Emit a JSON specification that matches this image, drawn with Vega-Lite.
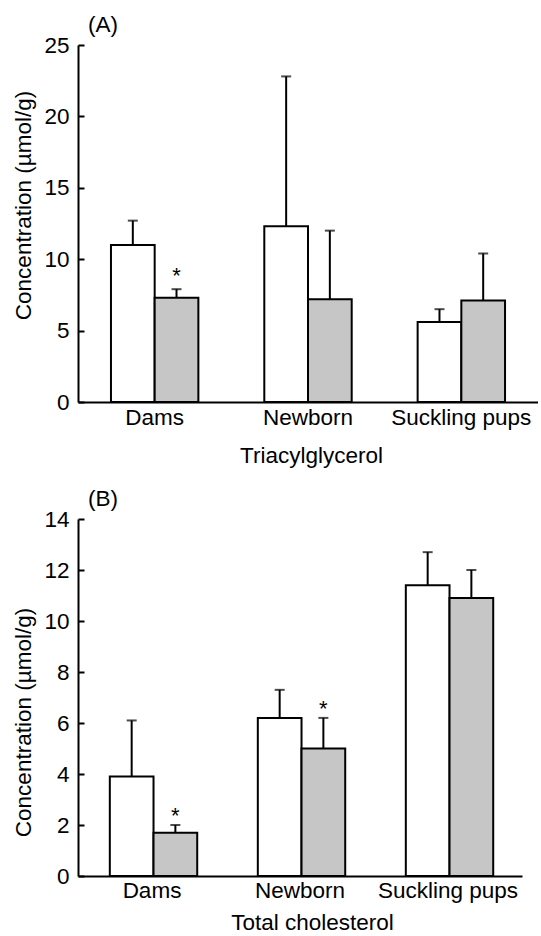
{
  "$schema": "https://vega.github.io/schema/vega-lite/v6.json",
  "background": "white",
  "padding": {"left": 12, "top": 13, "right": 0, "bottom": 0},
  "spacing": 20,
  "config": {
    "font": "Liberation Sans",
    "view": {"stroke": null},
    "axis": {
      "domainColor": "black", "domainWidth": 2, "tickColor": "black", "tickWidth": 2,
      "labelColor": "black", "titleColor": "black",
      "labelFont": "Liberation Sans", "titleFont": "Liberation Sans",
      "labelFontSize": 22.5, "titleFontSize": 22.5, "titleFontWeight": "normal", "grid": false
    },
    "title": {"font": "Liberation Sans", "fontSize": 22.5, "fontWeight": "normal", "anchor": "start", "frame": "group", "color": "black"}
  },
  "datasets": {
    "A": [
      {"group": "Dams", "treatment": "control", "value": 11.0, "upper": 12.7, "sig": false},
      {"group": "Dams", "treatment": "treated", "value": 7.3, "upper": 7.9, "sig": true},
      {"group": "Newborn", "treatment": "control", "value": 12.3, "upper": 22.8, "sig": false},
      {"group": "Newborn", "treatment": "treated", "value": 7.2, "upper": 12.0, "sig": false},
      {"group": "Suckling pups", "treatment": "control", "value": 5.6, "upper": 6.5, "sig": false},
      {"group": "Suckling pups", "treatment": "treated", "value": 7.1, "upper": 10.4, "sig": false}
    ],
    "B": [
      {"group": "Dams", "treatment": "control", "value": 3.9, "upper": 6.1, "sig": false},
      {"group": "Dams", "treatment": "treated", "value": 1.7, "upper": 2.0, "sig": true},
      {"group": "Newborn", "treatment": "control", "value": 6.2, "upper": 7.3, "sig": false},
      {"group": "Newborn", "treatment": "treated", "value": 5.0, "upper": 6.2, "sig": true},
      {"group": "Suckling pups", "treatment": "control", "value": 11.4, "upper": 12.7, "sig": false},
      {"group": "Suckling pups", "treatment": "treated", "value": 10.9, "upper": 12.0, "sig": false}
    ]
  },
  "vconcat": [
    {
      "title": {"text": "(A)", "dx": 10, "offset": -2},
      "width": 460,
      "height": 357,
      "data": {"name": "A"},
      "encoding": {
        "x": {
          "field": "group", "type": "nominal", "sort": ["Dams", "Newborn", "Suckling pups"],
          "scale": {"paddingInner": 0.43, "paddingOuter": 0.215},
          "axis": {"title": "Triacylglycerol", "labelAngle": 0, "ticks": false, "labelPadding": 4, "titlePadding": 16, "titleX": 233}
        },
        "xOffset": {"field": "treatment", "type": "nominal", "sort": ["control", "treated"]}
      },
      "layer": [
        {
          "mark": {"type": "bar", "stroke": "black", "strokeWidth": 2},
          "encoding": {
            "y": {
              "field": "value", "type": "quantitative",
              "scale": {"domain": [0, 25], "nice": false},
              "axis": {"title": "Concentration (µmol/g)", "values": [0, 5, 10, 15, 20, 25], "tickSize": -6, "labelPadding": 15, "titlePadding": 8, "titleY": 160}
            },
            "color": {"field": "treatment", "type": "nominal", "scale": {"domain": ["control", "treated"], "range": ["#ffffff", "#c6c6c6"]}, "legend": null}
          }
        },
        {
          "mark": {"type": "rule", "color": "black", "strokeWidth": 2},
          "encoding": {"y": {"field": "value", "type": "quantitative"}, "y2": {"field": "upper"}}
        },
        {
          "mark": {"type": "tick", "color": "black", "size": 10, "thickness": 2},
          "encoding": {"y": {"field": "upper", "type": "quantitative"}}
        },
        {
          "transform": [{"filter": "datum.sig"}],
          "mark": {"type": "text", "text": "*", "fontSize": 22, "baseline": "alphabetic", "dy": -6, "color": "black"},
          "encoding": {"y": {"field": "upper", "type": "quantitative"}}
        }
      ]
    },
    {
      "title": {"text": "(B)", "dx": 10, "offset": -2},
      "width": 444,
      "height": 357,
      "data": {"name": "B"},
      "encoding": {
        "x": {
          "field": "group", "type": "nominal", "sort": ["Dams", "Newborn", "Suckling pups"],
          "scale": {"paddingInner": 0.43, "paddingOuter": 0.215},
          "axis": {"title": "Total cholesterol", "labelAngle": 0, "ticks": false, "labelPadding": 3, "titlePadding": 10, "titleX": 234}
        },
        "xOffset": {"field": "treatment", "type": "nominal", "sort": ["control", "treated"]}
      },
      "layer": [
        {
          "mark": {"type": "bar", "stroke": "black", "strokeWidth": 2},
          "encoding": {
            "y": {
              "field": "value", "type": "quantitative",
              "scale": {"domain": [0, 14], "nice": false},
              "axis": {"title": "Concentration (µmol/g)", "values": [0, 2, 4, 6, 8, 10, 12, 14], "tickSize": -6, "labelPadding": 15, "titlePadding": 8, "titleY": 203}
            },
            "color": {"field": "treatment", "type": "nominal", "scale": {"domain": ["control", "treated"], "range": ["#ffffff", "#c6c6c6"]}, "legend": null}
          }
        },
        {
          "mark": {"type": "rule", "color": "black", "strokeWidth": 2},
          "encoding": {"y": {"field": "value", "type": "quantitative"}, "y2": {"field": "upper"}}
        },
        {
          "mark": {"type": "tick", "color": "black", "size": 10, "thickness": 2},
          "encoding": {"y": {"field": "upper", "type": "quantitative"}}
        },
        {
          "transform": [{"filter": "datum.sig"}],
          "mark": {"type": "text", "text": "*", "fontSize": 22, "baseline": "alphabetic", "dy": -2, "color": "black"},
          "encoding": {"y": {"field": "upper", "type": "quantitative"}}
        }
      ]
    }
  ]
}
